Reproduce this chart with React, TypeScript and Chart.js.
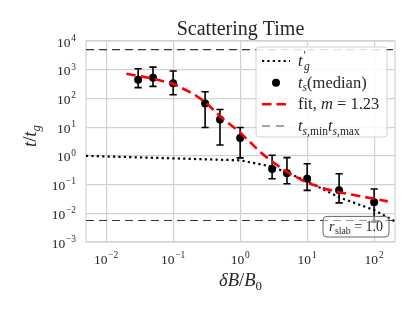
import React, { useEffect, useRef } from 'react';
import { Chart, registerables } from 'chart.js';

Chart.register(...registerables);

// ---------------- data ----------------
const deltaB = [0.03, 0.05, 0.1, 0.3, 0.5, 1, 3, 5, 10, 30, 100];
const tsMedian = [450, 525, 340, 67, 18.6, 4.15, 0.35, 0.25, 0.16, 0.063, 0.024];
const tsUpper = [1080, 1230, 900, 170, 41, 9.7, 1.05, 0.87, 0.53, 0.237, 0.07];
const tsLower = [237, 263, 135, 9.7, 2.4, 0.85, 0.16, 0.107, 0.063, 0.023, 0.005];

const tgX = [0.005, 1, 3, 5, 10, 30, 100, 205];
const tgY = [1.0, 0.7, 0.42, 0.26, 0.13, 0.036, 0.013, 0.0052];

const fitX = [0.02, 0.05, 0.1, 0.2, 0.3, 0.5, 1, 2, 3, 5, 10, 20, 30, 50, 100, 160];
const fitY = [724, 490, 324, 145, 76, 24, 6.5, 1.35, 0.63, 0.275, 0.115, 0.068, 0.054, 0.043, 0.032, 0.026];

const tsMax = 5000;
const tsMin = 0.0056;

const xMin = 0.005;
const xMax = 205;
const yMin = 1e-3;
const yMax = 1e4;

const xTickExps = [-2, -1, 0, 1, 2];
const yTickExps = [-3, -2, -1, 0, 1, 2, 3, 4];

// ---------------- rich text helpers ----------------
const SERIF = '"Liberation Serif", "DejaVu Serif", serif';
type Seg = { t: string; it?: boolean; sub?: boolean; sup?: boolean; hold?: boolean; dx?: number };

function fontStr(size: number, it?: boolean) {
  return `${it ? 'italic ' : ''}${size}px ${SERIF}`;
}

function measureRich(ctx: CanvasRenderingContext2D, segs: Seg[], size: number) {
  let w = 0;
  for (const s of segs) {
    const sz = s.sub || s.sup ? size * 0.7 : size;
    ctx.font = fontStr(sz, s.it);
    w += s.dx || 0;
    if (!s.hold) w += ctx.measureText(s.t).width;
  }
  return w;
}

function drawRich(
  ctx: CanvasRenderingContext2D,
  segs: Seg[],
  x: number,
  y: number,
  size: number,
  align: 'left' | 'center' | 'right',
  color: string
) {
  const w = measureRich(ctx, segs, size);
  let cx = align === 'left' ? x : align === 'center' ? x - w / 2 : x - w;
  ctx.fillStyle = color;
  ctx.textBaseline = 'alphabetic';
  ctx.textAlign = 'left';
  for (const s of segs) {
    const sz = s.sub || s.sup ? size * 0.7 : size;
    ctx.font = fontStr(sz, s.it);
    cx += s.dx || 0;
    const dy = s.sub ? size * 0.22 : s.sup ? -size * 0.42 : 0;
    ctx.fillText(s.t, cx, y + dy);
    if (!s.hold) cx += ctx.measureText(s.t).width;
  }
}

function expLabel(e: number): Seg[] {
  return [{ t: '10' }, { t: e < 0 ? '\u2212' + Math.abs(e) : String(e), sup: true, dx: 0.8 }];
}

const TEXT = '#262626';
const GRID = '#d2d2d2';

const decorPlugin = {
  id: 'decor',
  beforeDatasetsDraw(chart: any) {
    const ctx: CanvasRenderingContext2D = chart.ctx;
    const { left, right, top, bottom } = chart.chartArea;
    ctx.save();
    ctx.strokeStyle = GRID;
    ctx.lineWidth = 1.2;
    ctx.strokeRect(left, top, right - left, bottom - top);
    ctx.restore();
  },
  beforeDatasetDraw(chart: any, args: any) {
    if (args.index !== 1) return;
    const ctx: CanvasRenderingContext2D = chart.ctx;
    const xs = chart.scales.x;
    const ys = chart.scales.y;
    ctx.save();
    ctx.strokeStyle = '#000';
    ctx.lineWidth = 1.6;
    for (let i = 0; i < deltaB.length; i++) {
      const px = xs.getPixelForValue(deltaB[i]);
      const pt = ys.getPixelForValue(tsUpper[i]);
      const pb = ys.getPixelForValue(tsLower[i]);
      ctx.beginPath();
      ctx.moveTo(px, pt);
      ctx.lineTo(px, pb);
      ctx.moveTo(px - 3.6, pt);
      ctx.lineTo(px + 3.6, pt);
      ctx.moveTo(px - 3.6, pb);
      ctx.lineTo(px + 3.6, pb);
      ctx.stroke();
    }
    ctx.restore();
  },
  afterDraw(chart: any) {
    const ctx: CanvasRenderingContext2D = chart.ctx;
    const { left, right, top, bottom } = chart.chartArea;
    const xs = chart.scales.x;
    const ys = chart.scales.y;
    ctx.save();

    // tick labels
    for (const e of xTickExps) {
      const px = xs.getPixelForValue(Math.pow(10, e));
      drawRich(ctx, expLabel(e), px, bottom + 22, 13.5, 'center', TEXT);
    }
    for (const e of yTickExps) {
      const py = ys.getPixelForValue(Math.pow(10, e));
      drawRich(ctx, expLabel(e), left - 10, py + 5.5, 13.5, 'right', TEXT);
    }

    // title
    drawRich(ctx, [{ t: 'Scattering Time' }], (left + right) / 2, 35, 20, 'center', TEXT);

    // x label
    drawRich(
      ctx,
      [{ t: '\u03b4', it: true }, { t: 'B', it: true }, { t: '/' }, { t: 'B', it: true }, { t: '0', sub: true }],
      (left + right) / 2,
      286,
      18.5,
      'center',
      TEXT
    );

    // y label
    ctx.save();
    ctx.translate(36, 136);
    ctx.rotate(-Math.PI / 2);
    drawRich(
      ctx,
      [{ t: 't', it: true }, { t: '/' }, { t: 't', it: true }, { t: 'g', it: true, sub: true }],
      0,
      0,
      18.5,
      'center',
      TEXT
    );
    ctx.restore();

    // legend
    const lw = 131;
    const lh = 90;
    const lx = right - 8 - lw;
    const ly = top + 6;
    ctx.beginPath();
    (ctx as any).roundRect(lx, ly, lw, lh, 3);
    ctx.fillStyle = 'rgba(255,255,255,0.85)';
    ctx.fill();
    ctx.strokeStyle = '#d0d0d0';
    ctx.lineWidth = 1;
    ctx.stroke();

    const rowY = [ly + 14, ly + 35.7, ly + 57.3, ly + 79];
    const sx0 = lx + 6;
    const sx1 = lx + 34;
    const tx = lx + 42;
    const fs = 16.5;

    // row 1: dotted
    ctx.save();
    ctx.strokeStyle = '#000';
    ctx.lineWidth = 2.2;
    ctx.setLineDash([2.2, 3.2]);
    ctx.beginPath();
    ctx.moveTo(sx0, rowY[0]);
    ctx.lineTo(sx1, rowY[0]);
    ctx.stroke();
    ctx.restore();
    drawRich(
      ctx,
      [{ t: 't', it: true }, { t: '\u2032', sup: true, hold: true, dx: 1 }, { t: 'g', it: true, sub: true, dx: 0.5 }],
      tx,
      rowY[0] + 5,
      fs,
      'left',
      TEXT
    );

    // row 2: marker
    ctx.beginPath();
    ctx.arc((sx0 + sx1) / 2, rowY[1], 4, 0, Math.PI * 2);
    ctx.fillStyle = '#000';
    ctx.fill();
    drawRich(
      ctx,
      [{ t: 't', it: true }, { t: 's', it: true, sub: true }, { t: '(median)' }],
      tx,
      rowY[1] + 5,
      fs,
      'left',
      TEXT
    );

    // row 3: red dashed
    ctx.save();
    ctx.strokeStyle = '#ff0000';
    ctx.lineWidth = 2.6;
    ctx.setLineDash([9.5, 5]);
    ctx.beginPath();
    ctx.moveTo(sx0, rowY[2]);
    ctx.lineTo(sx1, rowY[2]);
    ctx.stroke();
    ctx.restore();
    drawRich(
      ctx,
      [{ t: 'fit, ' }, { t: 'm', it: true }, { t: ' = 1.23' }],
      tx,
      rowY[2] + 5,
      fs,
      'left',
      TEXT
    );

    // row 4: grey dashed
    ctx.save();
    ctx.strokeStyle = '#888';
    ctx.lineWidth = 1.6;
    ctx.setLineDash([8, 6]);
    ctx.beginPath();
    ctx.moveTo(sx0, rowY[3]);
    ctx.lineTo(sx1, rowY[3]);
    ctx.stroke();
    ctx.restore();
    drawRich(
      ctx,
      [
        { t: 't', it: true },
        { t: 's', it: true, sub: true },
        { t: ',min', sub: true },
        { t: 't', it: true },
        { t: 's', it: true, sub: true },
        { t: ',max', sub: true },
      ],
      tx,
      rowY[3] + 5,
      fs,
      'left',
      TEXT
    );

    // annotation box
    const aw = 66;
    const ah = 20.6;
    const ax = right - 6 - aw;
    const ay = bottom - 5 - ah;
    ctx.beginPath();
    (ctx as any).roundRect(ax, ay, aw, ah, 4);
    ctx.fillStyle = 'rgba(255,255,255,0.5)';
    ctx.fill();
    ctx.strokeStyle = '#666';
    ctx.lineWidth = 1;
    ctx.stroke();
    drawRich(
      ctx,
      [{ t: 'r', it: true }, { t: 'slab', sub: true, dx: 0.5 }, { t: ' = 1.0' }],
      ax + aw / 2,
      ay + 14.5,
      14,
      'center',
      TEXT
    );

    ctx.restore();
  },
};

export default function App() {
  const ref = useRef<HTMLCanvasElement | null>(null);

  useEffect(() => {
    if (!ref.current) return;
    const chart = new Chart(ref.current, {
      type: 'line',
      data: {
        datasets: [
          {
            label: "t'_g",
            data: tgX.map((x, i) => ({ x, y: tgY[i] })),
            borderColor: '#000',
            borderWidth: 2.2,
            borderDash: [2.2, 3.2],
            pointRadius: 0,
            fill: false,
            tension: 0,
            order: 4,
          },
          {
            type: 'scatter',
            label: 't_s(median)',
            data: deltaB.map((x, i) => ({ x, y: tsMedian[i] })),
            backgroundColor: '#000',
            borderColor: '#000',
            pointRadius: 4,
            pointBorderWidth: 0,
            showLine: false,
            order: 3,
          } as any,
          {
            label: 'fit',
            data: fitX.map((x, i) => ({ x, y: fitY[i] })),
            borderColor: '#ff0000',
            borderWidth: 2.6,
            borderDash: [9.5, 5],
            pointRadius: 0,
            fill: false,
            tension: 0,
            order: 2,
          },
          {
            label: 'ts,max',
            data: [
              { x: xMin, y: tsMax },
              { x: xMax, y: tsMax },
            ],
            borderColor: '#333',
            borderWidth: 1.2,
            borderDash: [8, 5],
            pointRadius: 0,
            fill: false,
            order: 1,
          },
          {
            label: 'ts,min',
            data: [
              { x: xMin, y: tsMin },
              { x: xMax, y: tsMin },
            ],
            borderColor: '#333',
            borderWidth: 1.2,
            borderDash: [8, 5],
            pointRadius: 0,
            fill: false,
            order: 1,
          },
        ],
      },
      options: {
        animation: false,
        responsive: false,
        maintainAspectRatio: false,
        devicePixelRatio: 1,
        layout: { padding: { left: 0, right: 20, top: 41, bottom: 0 } },
        plugins: {
          legend: { display: false },
          tooltip: { enabled: false },
          title: { display: false },
        },
        scales: {
          x: {
            type: 'logarithmic',
            min: xMin,
            max: xMax,
            afterBuildTicks: (s: any) => {
              s.ticks = xTickExps.map((e) => ({ value: Math.pow(10, e) }));
            },
            afterFit: (s: any) => {
              s.height = 70;
            },
            ticks: { display: false },
            grid: { color: GRID, lineWidth: 1.2, drawTicks: false },
            border: { display: false },
          },
          y: {
            type: 'logarithmic',
            min: yMin,
            max: yMax,
            afterBuildTicks: (s: any) => {
              s.ticks = yTickExps.map((e) => ({ value: Math.pow(10, e) }));
            },
            afterFit: (s: any) => {
              s.width = 86;
            },
            ticks: { display: false },
            grid: { color: GRID, lineWidth: 1.2, drawTicks: false },
            border: { display: false },
          },
        },
      } as any,
      plugins: [decorPlugin],
    });
    return () => chart.destroy();
  }, []);

  return (
    <div style={{ position: 'fixed', left: 0, top: 0, width: 415, height: 312, background: '#fff' }}>
      <canvas ref={ref} width={415} height={312} style={{ width: 415, height: 312, display: 'block' }} />
    </div>
  );
}
